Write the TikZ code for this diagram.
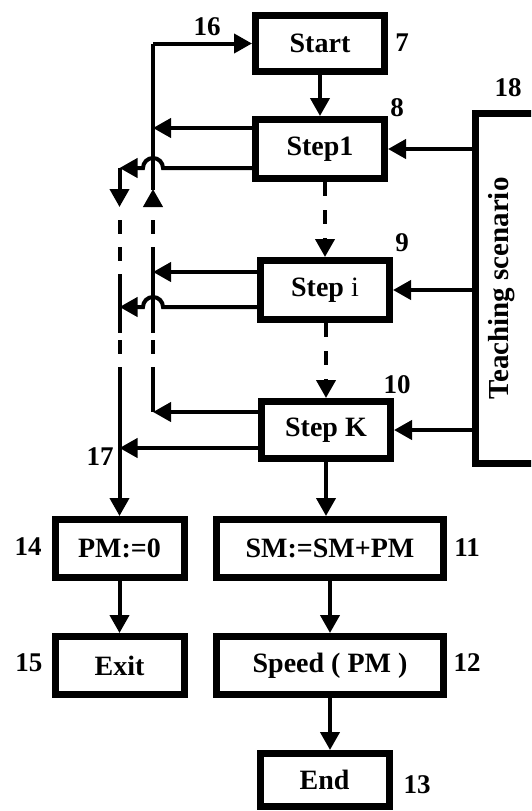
\documentclass[tikz,border=0pt]{standalone}
\usepackage{fontspec}
\setmainfont{Liberation Serif}
\usepackage{graphicx}
\usetikzlibrary{arrows.meta}
\tikzset{
    box/.style={draw, line width=7pt, minimum width=129pt, minimum height=58pt,
        inner sep=0pt, font=\fontsize{28}{30}\selectfont\bfseries},
    widebox/.style={box, minimum width=227pt},
    wire/.style={line width=4pt},
    arr/.style={line width=4pt, -{Triangle[length=18pt,width=19pt]}},
    gapline/.style={line width=4pt, dash pattern=on 14pt off 13pt},
    num/.style={inner sep=0pt, font=\fontsize{27}{29}\selectfont\bfseries}
}
\begin{document}
\begin{tikzpicture}[x=1pt,y=-1pt]
        \clip (0,0) rectangle (531,811);
        % main column
        \node[box, minimum height=56pt] (start) at (320,43.5) {Start};
        \node[box, minimum height=59pt] (s1) at (320,149) {Step1};
        \node[box, minimum height=59pt] (si) at (325,290) {Step {\mdseries i}};
        \node[box, minimum height=57pt] (sk) at (326,430) {Step K};
        \node[widebox] (sm) at (330,548.5) {SM:=SM+PM};
        \node[widebox] (speed) at (330,665.5) {Speed ( PM )};
        \node[box, minimum height=53pt] (end) at (324.5,780) {End};
        % exit column
        \node[box] (pm) at (119.5,548.5) {PM:=0};
        \node[box] (exit) at (119.5,665.5) {Exit};
        \node[box, minimum width=60pt, minimum height=350pt, font=\fontsize{29}{31}\selectfont\bfseries]
            (teach) at (505,288.5) {\rotatebox{90}{Teaching scenario}\hspace*{6pt}};
        % numbers
        \foreach \n/\x/\y in {7/402/43, 8/397/108, 9/402/243, 10/397/385, 11/467/548,
                12/467/663, 13/417/785, 14/28/547, 15/29/663, 16/207/27, 17/100/457, 18/508/88}
            \node[num] (n\n) at (\x,\y) {\n};
        % buses
        \coordinate (mb) at (153,0);
        \coordinate (lb) at (119.5,0);
        \coordinate (hop) at (163,0);
        \foreach \s/\ou/\ol in {s1/21/19, si/18/17, sk/18/18} {
            \coordinate (\s u) at ([yshift=\ou pt]\s.west);
            \coordinate (\s l) at ([yshift=-\ol pt]\s.west);
        }
        \draw[arr] (start) -- (s1);
        \draw[arr, dash pattern=on 14pt off 14pt] (si.north |- s1.south) -- (si.north);
        \draw[arr, dash pattern=on 14pt off 14pt] (sk.north |- si.south) -- (sk.north);
        \draw[arr] (sk.south) -- (sk.south |- sm.north);
        \draw[arr] (sm) -- (speed);
        \draw[arr] (speed.south) -- (speed.south |- end.north);
        \draw[arr] (pm) -- (exit);
        \foreach \s in {s1,si,sk}
            \draw[arr] (teach.west |- \s) -- (\s.east);
        % back to start
        \draw[arr] (start.west -| mb) -- (start.west);
        \draw[wire] (start.west -| mb) -- (153,190);
        \draw[arr] (153,207) -- (153,189);
        \draw[gapline, dash phase=14pt] (153,207) -- (153,247);
        \draw[wire] (153,247) -- (153,333);
        \draw[gapline, dash phase=20pt] (153,333) -- (153,367);
        \draw[wire] (153,367) -- (sku -| mb);
        \foreach \s in {s1,si,sk}
            \draw[arr] (\s u) -- (\s u -| mb);
        % to exit
        \foreach \s in {s1,si}
            \draw[arr] (\s l) -- (\s l -| hop) arc[start angle=0, end angle=180, radius=10pt] -- (\s l -| lb);
        \draw[arr] (skl) -- (skl -| lb);
        \draw[arr] (s1l -| lb) -- (119.5,207);
        \draw[gapline, dash phase=14pt] (119.5,207) -- (119.5,274);
        \draw[wire] (119.5,274) -- (119.5,333);
        \draw[gapline, dash phase=20pt] (119.5,333) -- (119.5,367);
        \draw[arr] (119.5,367) -- (pm.north);
    \end{tikzpicture}
\end{document}
